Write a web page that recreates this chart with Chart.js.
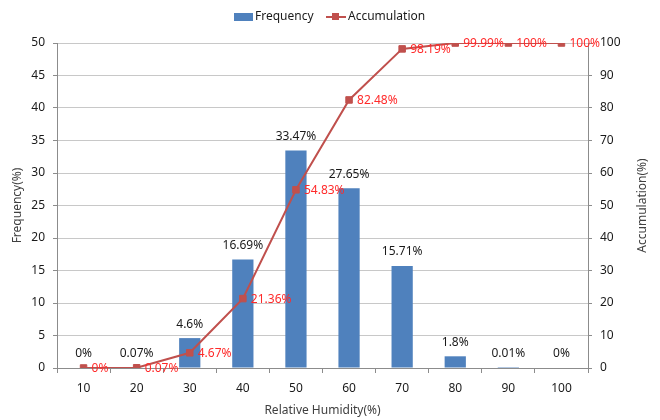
<!DOCTYPE html>
<html>
<head>
<meta charset="utf-8">
<script src="https://cdn.jsdelivr.net/npm/chart.js@4/dist/chart.umd.min.js"></script>
<style>
  html, body { margin: 0; padding: 0; background: #fff; overflow: hidden; }
  #c { display: block; }
</style>
</head>
<body>
<canvas id="c" width="660" height="420"></canvas>
<script>
// Relative humidity classes and their distribution
const humidity = ['10', '20', '30', '40', '50', '60', '70', '80', '90', '100'];
const frequency = [0, 0.07, 4.6, 16.69, 33.47, 27.65, 15.71, 1.8, 0.01, 0];
const accumulation = [0, 0.07, 4.67, 21.36, 54.83, 82.48, 98.19, 99.99, 100, 100];
const freqTicks = [0, 5, 10, 15, 20, 25, 30, 35, 40, 45, 50];
const accTicks = [0, 10, 20, 30, 40, 50, 60, 70, 80, 90, 100];

const FONT = '"Noto Sans", "DejaVu Sans", sans-serif';
const BAR = '#4F81BD';
const LINE = '#C0504D';
const LABEL_RED = '#FF2A2A';
const GRID = '#C8C8C8';
const AXIS = '#8C8C8C';

// Value labels above bars and beside the accumulation markers
const valueLabels = {
  id: 'valueLabels',
  afterDatasetsDraw(chart) {
    const ctx = chart.ctx;
    ctx.save();
    ctx.font = '12px ' + FONT;
    ctx.textBaseline = 'middle';
    chart.getDatasetMeta(1).data.forEach((el, i) => {
      ctx.fillStyle = '#1a1a1a';
      ctx.textAlign = 'center';
      ctx.fillText(frequency[i] + '%', el.x, el.y - 14);
    });
    chart.getDatasetMeta(0).data.forEach((el, i) => {
      ctx.fillStyle = LABEL_RED;
      ctx.textAlign = 'left';
      ctx.fillText(accumulation[i] + '%', el.x + 8, el.y + 1);
    });
    ctx.restore();
  }
};

// Legend row and the right-hand axis title
const decorations = {
  id: 'decorations',
  afterDraw(chart) {
    const ctx = chart.ctx;
    ctx.save();
    ctx.font = '12px ' + FONT;
    ctx.textBaseline = 'middle';
    ctx.textAlign = 'left';
    const ly = 17;
    // Frequency entry
    ctx.fillStyle = BAR;
    ctx.fillRect(234, ly - 4, 19, 8);
    ctx.fillStyle = '#1a1a1a';
    ctx.fillText('Frequency', 255, ly);
    // Accumulation entry
    ctx.strokeStyle = LINE;
    ctx.lineWidth = 2;
    ctx.beginPath();
    ctx.moveTo(326, ly);
    ctx.lineTo(346, ly);
    ctx.stroke();
    ctx.fillStyle = LINE;
    ctx.fillRect(332, ly - 4, 7, 7);
    ctx.fillStyle = '#1a1a1a';
    ctx.fillText('Accumulation', 348, ly);
    // Right axis title, reading bottom to top
    const area = chart.chartArea;
    ctx.translate(643, (area.top + area.bottom) / 2);
    ctx.rotate(-Math.PI / 2);
    ctx.textAlign = 'center';
    ctx.fillStyle = '#404040';
    ctx.fillText('Accumulation(%)', 0, 0);
    ctx.restore();
  }
};

new Chart(document.getElementById('c'), {
  data: {
    labels: humidity,
    datasets: [
      {
        type: 'line',
        label: 'Accumulation',
        data: accumulation,
        yAxisID: 'y1',
        borderColor: LINE,
        backgroundColor: LINE,
        borderWidth: 2,
        pointStyle: 'rect',
        pointRadius: 4.6,
        pointHoverRadius: 4.6,
        pointBorderWidth: 1,
        tension: 0,
        order: 0
      },
      {
        type: 'bar',
        label: 'Frequency',
        data: frequency,
        yAxisID: 'y',
        backgroundColor: BAR,
        borderWidth: 0,
        categoryPercentage: 1,
        barPercentage: 0.4,
        order: 1
      }
    ]
  },
  options: {
    responsive: false,
    animation: false,
    devicePixelRatio: 1,
    layout: { padding: { top: 43, left: 0, right: 0, bottom: 0 } },
    plugins: {
      legend: { display: false },
      tooltip: { enabled: false }
    },
    scales: {
      x: {
        offset: true,
        afterFit(s) { s.height = 52; },
        grid: { offset: true, drawOnChartArea: false, drawTicks: true, tickLength: 5, color: AXIS },
        border: { color: AXIS },
        ticks: { color: '#1a1a1a', font: { family: FONT, size: 12 }, padding: 8, maxRotation: 0, autoSkip: false },
        title: {
          display: true, text: 'Relative Humidity(%)', color: '#404040',
          font: { family: FONT, size: 12 }, padding: { top: 0, bottom: 2 }
        }
      },
      y: {
        position: 'left',
        min: 0, max: 50,
        afterFit(s) { s.width = 57; },
        afterBuildTicks(s) { s.ticks = freqTicks.map(v => ({ value: v })); },
        grid: { color: GRID, tickColor: AXIS, tickLength: 4, drawTicks: true },
        border: { color: AXIS },
        ticks: { color: '#1a1a1a', font: { family: FONT, size: 12 }, padding: 8, autoSkip: false },
        title: {
          display: true, text: 'Frequency(%)', color: '#404040',
          font: { family: FONT, size: 12 }, padding: { top: 10, bottom: 0 }
        }
      },
      y1: {
        position: 'right',
        min: 0, max: 100,
        afterFit(s) { s.width = 72; },
        afterBuildTicks(s) { s.ticks = accTicks.map(v => ({ value: v })); },
        grid: { drawOnChartArea: false, tickColor: AXIS, tickLength: 4, drawTicks: true },
        border: { color: AXIS },
        ticks: { color: '#1a1a1a', font: { family: FONT, size: 12 }, padding: 8, autoSkip: false }
      }
    }
  },
  plugins: [valueLabels, decorations]
});
</script>
</body>
</html>
